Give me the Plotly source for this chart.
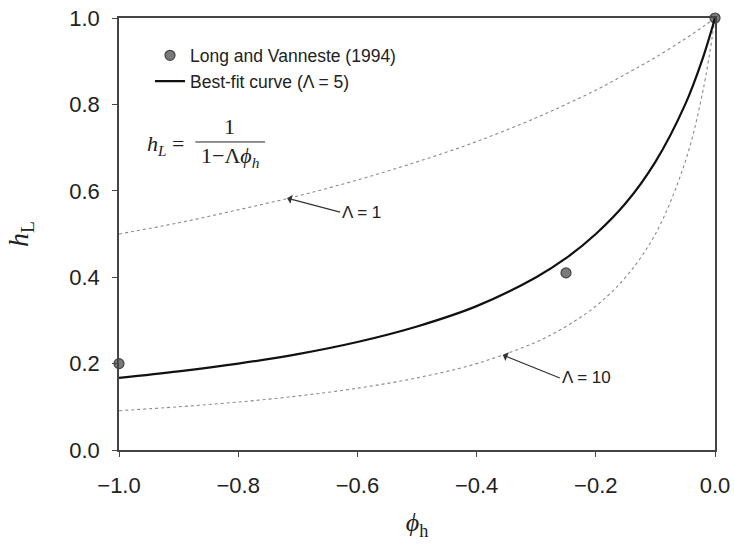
import plotly.graph_objects as go

# Observed data (Long and Vanneste, 1994)
obs_phi = [-1.0, -0.25, 0.0]
obs_h = [0.20, 0.41, 1.0]

# Curves
curve_phi = [-1.0, -0.9, -0.8, -0.7, -0.6, -0.5, -0.4, -0.3, -0.25, -0.2, -0.15, -0.1, -0.05, -0.02, 0.0]
h_lam5 = [0.167, 0.182, 0.20, 0.222, 0.25, 0.286, 0.333, 0.40, 0.444, 0.50, 0.571, 0.667, 0.80, 0.909, 1.0]
h_lam1 = [0.50, 0.526, 0.556, 0.588, 0.625, 0.667, 0.714, 0.769, 0.80, 0.833, 0.87, 0.909, 0.952, 0.98, 1.0]
h_lam10 = [0.091, 0.10, 0.111, 0.125, 0.143, 0.167, 0.20, 0.25, 0.286, 0.333, 0.40, 0.50, 0.667, 0.833, 1.0]

x_ticks = [-1.0, -0.8, -0.6, -0.4, -0.2, 0.0]
y_ticks = [0.0, 0.2, 0.4, 0.6, 0.8, 1.0]

fig = go.Figure()
fig.add_trace(go.Scatter(x=curve_phi, y=h_lam1, mode="lines", line=dict(color="#8a8a8a", width=1.1, dash="dot", shape="spline"),
                         showlegend=False, hoverinfo="skip"))
fig.add_trace(go.Scatter(x=curve_phi, y=h_lam10, mode="lines", line=dict(color="#8a8a8a", width=1.1, dash="dot", shape="spline"),
                         showlegend=False, hoverinfo="skip"))
fig.add_trace(go.Scatter(x=obs_phi, y=obs_h, mode="markers", name="Long and Vanneste (1994)",
                         marker=dict(size=10, color="#7a7a7a", line=dict(color="#444", width=1.2)), cliponaxis=False))
fig.add_trace(go.Scatter(x=curve_phi, y=h_lam5, mode="lines", name="Best-fit curve (\u039b = 5)",
                         line=dict(color="#111", width=2.2, shape="spline")))

axis_common = dict(showline=True, linecolor="#444", linewidth=1.5, mirror=True, ticks="outside", ticklen=5,
                   tickcolor="#444", tickwidth=1.2, showgrid=False, zeroline=False, automargin=False,
                   tickfont=dict(family="Liberation Sans, Arial", size=22, color="#222"))

fig.update_layout(
    width=734, height=546,
    margin=dict(l=119, r=19, t=18, b=96),
    paper_bgcolor="white", plot_bgcolor="white",
    xaxis=dict(range=[-1.0, 0.0], tickvals=x_ticks, tickformat=".1f", ticklabelstandoff=10,
               title=dict(text="<i>\u03d5</i><sub>h</sub>", font=dict(family="Liberation Serif, Times New Roman", size=26, color="#222"), standoff=16),
               **axis_common),
    yaxis=dict(range=[0.0, 1.0], tickvals=y_ticks, tickformat=".1f", ticklabelstandoff=8,
               title=dict(text="<i>h</i><sub>L</sub>", font=dict(family="Liberation Serif, Times New Roman", size=28, color="#222"), standoff=32),
               **axis_common),
    legend=dict(x=0.052, y=0.955, xanchor="left", yanchor="top", bgcolor="rgba(0,0,0,0)",
                font=dict(family="Liberation Sans, Arial", size=17.5, color="#222"), tracegroupgap=0, itemwidth=30),
    showlegend=True,
)

# Formula annotation
ffont = dict(family="Liberation Serif, Times New Roman", size=22, color="#222")
fig.add_annotation(xref="paper", yref="paper", x=0.044, y=0.706, xanchor="left", yanchor="middle",
                   text="<i>h</i><sub><i>L</i></sub> =", showarrow=False, font=ffont)
fig.add_annotation(xref="paper", yref="paper", x=0.185, y=0.750, xanchor="center", yanchor="middle",
                   text="1", showarrow=False, font=ffont)
fig.add_annotation(xref="paper", yref="paper", x=0.187, y=0.678, xanchor="center", yanchor="middle",
                   text="1\u2212\u039b<i>\u03d5</i><sub><i>h</i></sub>", showarrow=False, font=ffont)
fig.add_shape(type="line", xref="paper", yref="paper", x0=0.128, x1=0.245, y0=0.713, y1=0.713,
              line=dict(color="#222", width=1))

# Lambda labels with arrows
lfont = dict(family="Liberation Sans, Arial", size=17, color="#222")
fig.add_annotation(x=-0.718, y=0.583, ax=53, ay=14, text="\u039b = 1", showarrow=True, arrowhead=1,
                   arrowsize=1.3, arrowwidth=1.2, arrowcolor="#333", font=lfont, xanchor="left")
fig.add_annotation(x=-0.356, y=0.22, ax=57, ay=23, text="\u039b = 10", showarrow=True, arrowhead=1,
                   arrowsize=1.3, arrowwidth=1.2, arrowcolor="#333", font=lfont, xanchor="left")

fig.write_html("out.html")
